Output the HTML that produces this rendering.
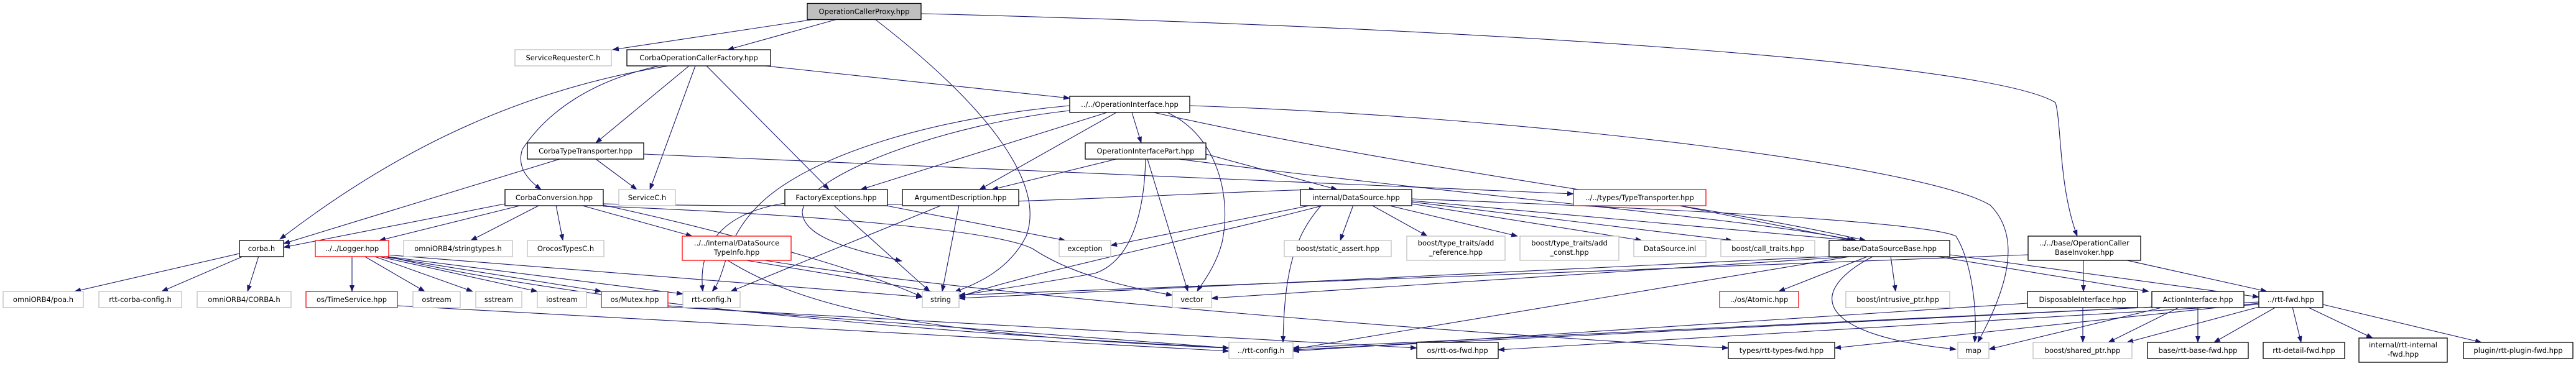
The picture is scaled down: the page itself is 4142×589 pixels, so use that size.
<!DOCTYPE html>
<html><head><meta charset="utf-8"><style>
html,body{margin:0;padding:0;background:#fff;}
svg{display:block;}
text{font-family:"DejaVu Sans","Liberation Sans",sans-serif;font-size:11.5px;fill:#000;text-anchor:middle;}
.e{fill:none;stroke:#191970;stroke-width:1.1;marker-end:url(#a);}
.b{fill:#fff;stroke:#000;stroke-width:1.3;}
.g{fill:#fff;stroke:#bfbfbf;stroke-width:1.3;}
.r{fill:#fff;stroke:#ff0000;stroke-width:1.3;}
</style></head><body>
<svg width="4142" height="589" viewBox="0 0 4142 589" xmlns="http://www.w3.org/2000/svg">
<defs><marker id="a" markerUnits="userSpaceOnUse" markerWidth="11" markerHeight="8" refX="10" refY="4" orient="auto"><path d="M0,0 L11,4 L0,8 z" fill="#191970"/></marker></defs>
<g>
<path class="e" d="M1310,31 L985,80"/>
<path class="e" d="M1346,31 L1170,80"/>
<path class="e" d="M1407,31 C1600,180 1680,300 1650,380 C1620,440 1560,460 1535,470"/>
<path class="e" d="M1481,22 C2400,45 3200,100 3305,165 C3315,200 3310,300 3340,380"/>
<path class="e" d="M1075,106 C800,150 600,270 450,385"/>
<path class="e" d="M1060,106 C950,130 880,180 840,240 C830,270 850,290 870,305"/>
<path class="e" d="M1108,106 L958,230"/>
<path class="e" d="M1118,106 L1045,305"/>
<path class="e" d="M1136,106 L1333,305"/>
<path class="e" d="M1230,106 L1720,158"/>
<path class="e" d="M958,256 L1024,305"/>
<path class="e" d="M900,256 L456,392"/>
<path class="e" d="M1035,248 L2530,312"/>
<path class="e" d="M812,328 L456,398"/>
<path class="e" d="M840,330 L610,387"/>
<path class="e" d="M868,330 L757,387"/>
<path class="e" d="M894,330 L905,387"/>
<path class="e" d="M933,330 L1113,380"/>
<path class="e" d="M970,332 C1300,345 1600,370 1660,400 C1720,440 1800,460 1885,475"/>
<path class="e" d="M970,328 C1500,340 1900,310 2115,305"/>
<path class="e" d="M970,330 C1200,380 1400,440 1483,478"/>
<path class="e" d="M1340,330 L1495,469"/>
<path class="e" d="M1420,330 L1713,387"/>
<path class="e" d="M1262,327 C1180,340 1120,380 1130,469"/>
<path class="e" d="M1542,330 L1515,469"/>
<path class="e" d="M1515,330 L1175,469"/>
<path class="e" d="M1780,181 L1384,305"/>
<path class="e" d="M1720,170 C1500,190 1300,250 1220,330 C1160,390 1170,440 1145,469"/>
<path class="e" d="M1720,178 C1520,200 1300,280 1290,340 C1290,380 1360,400 1450,420"/>
<path class="e" d="M1795,181 L1575,305"/>
<path class="e" d="M1820,181 L1835,230"/>
<path class="e" d="M1877,181 C1960,220 1980,320 1965,390 C1955,430 1930,460 1925,469"/>
<path class="e" d="M1855,181 C2300,280 2700,320 3000,387"/>
<path class="e" d="M1913,170 C2500,190 3100,270 3200,330 C3250,380 3230,460 3180,551"/>
<path class="e" d="M1795,256 L1595,305"/>
<path class="e" d="M1939,248 L2150,305"/>
<path class="e" d="M1842,256 C1840,340 1820,420 1760,440 C1650,460 1570,470 1542,476"/>
<path class="e" d="M1845,256 L1910,469"/>
<path class="e" d="M1895,256 C2400,320 2800,350 2985,387"/>
<path class="e" d="M2110,330 L1786,395"/>
<path class="e" d="M2130,330 C1900,390 1650,440 1542,478"/>
<path class="e" d="M2176,330 L2155,387"/>
<path class="e" d="M2205,330 L2295,380"/>
<path class="e" d="M2230,330 L2440,380"/>
<path class="e" d="M2270,328 L2640,387"/>
<path class="e" d="M2270,325 L2785,387"/>
<path class="e" d="M2270,323 L2980,387"/>
<path class="e" d="M2125,330 C2080,380 2065,440 2063,551"/>
<path class="e" d="M2270,320 C2800,340 3100,360 3145,380 C3170,420 3180,500 3175,551"/>
<path class="e" d="M2695,330 L2980,387"/>
<path class="e" d="M1200,419 L1535,475"/>
<path class="e" d="M1170,419 C1300,500 1500,540 1976,560"/>
<path class="e" d="M1230,419 C1600,480 2400,540 2779,560"/>
<path class="e" d="M566,412 L566,469"/>
<path class="e" d="M585,412 L683,469"/>
<path class="e" d="M600,412 L760,469"/>
<path class="e" d="M605,412 L864,469"/>
<path class="e" d="M610,412 L967,469"/>
<path class="e" d="M615,412 L1098,473"/>
<path class="e" d="M620,410 L1483,478"/>
<path class="e" d="M620,412 C900,480 1400,530 1976,560"/>
<path class="e" d="M639,492 L1976,565"/>
<path class="e" d="M1074,492 L1976,560"/>
<path class="e" d="M1074,494 L2278,560"/>
<path class="e" d="M385,408 L120,469"/>
<path class="e" d="M392,412 L260,469"/>
<path class="e" d="M416,412 L398,469"/>
<path class="e" d="M2960,412 L1542,480"/>
<path class="e" d="M2990,412 L1948,480"/>
<path class="e" d="M3005,412 L2860,469"/>
<path class="e" d="M3040,412 L3048,469"/>
<path class="e" d="M3013,412 C2900,470 2920,540 3145,562"/>
<path class="e" d="M3135,410 L3632,478"/>
<path class="e" d="M3110,412 L3455,469"/>
<path class="e" d="M2980,412 L2079,562"/>
<path class="e" d="M3350,419 L3350,469"/>
<path class="e" d="M3261,410 L1542,475"/>
<path class="e" d="M3420,419 L3645,469"/>
<path class="e" d="M3349,494 L3349,551"/>
<path class="e" d="M3260,488 L2079,565"/>
<path class="e" d="M3534,494 L3534,551"/>
<path class="e" d="M3505,494 L3390,551"/>
<path class="e" d="M3480,494 L3198,562"/>
<path class="e" d="M3465,494 L2079,563"/>
<path class="e" d="M3660,494 L3560,551"/>
<path class="e" d="M3686,494 L3700,551"/>
<path class="e" d="M3710,494 L3815,544"/>
<path class="e" d="M3735,490 L3990,551"/>
<path class="e" d="M3632,494 L3420,551"/>
<path class="e" d="M3632,490 L2409,563"/>
<path class="e" d="M3632,488 L2950,560"/>
<path class="e" d="M3632,486 L2079,560"/>
</g>
<g>
<rect x="1298" y="5.5" width="183" height="26" fill="#bfbfbf" stroke="#000" stroke-width="1.3"/><text x="1389.5" y="22.5">OperationCallerProxy.hpp</text>
<rect class="g" x="828" y="80" width="155" height="26"/><text x="905.5" y="97">ServiceRequesterC.h</text>
<rect class="b" x="1008" y="80" width="231" height="26"/><text x="1123.5" y="97">CorbaOperationCallerFactory.hpp</text>
<rect class="b" x="1720" y="155" width="193" height="26"/><text x="1816.5" y="172">../../OperationInterface.hpp</text>
<rect class="b" x="848" y="230" width="187" height="26"/><text x="941.5" y="247">CorbaTypeTransporter.hpp</text>
<rect class="b" x="1745" y="230" width="194" height="26"/><text x="1842" y="247">OperationInterfacePart.hpp</text>
<rect class="b" x="812" y="305" width="158" height="26"/><text x="891" y="322">CorbaConversion.hpp</text>
<rect class="g" x="995" y="305" width="91" height="26"/><text x="1040.5" y="322">ServiceC.h</text>
<rect class="b" x="1262" y="305" width="165" height="26"/><text x="1344.5" y="322">FactoryExceptions.hpp</text>
<rect class="b" x="1451" y="305" width="187" height="26"/><text x="1544.5" y="322">ArgumentDescription.hpp</text>
<rect class="b" x="2091" y="305" width="179" height="26"/><text x="2180.5" y="322">internal/DataSource.hpp</text>
<rect class="r" x="2530" y="305" width="213" height="26"/><text x="2636.5" y="322">../../types/TypeTransporter.hpp</text>
<rect class="b" x="385" y="387" width="71" height="26"/><text x="420.5" y="404">corba.h</text>
<rect class="r" x="507" y="387" width="118" height="26"/><text x="566" y="404">../../Logger.hpp</text>
<rect class="g" x="649" y="387" width="175" height="26"/><text x="736.5" y="404">omniORB4/stringtypes.h</text>
<rect class="g" x="848" y="387" width="123" height="26"/><text x="909.5" y="404">OrocosTypesC.h</text>
<rect class="r" x="1097" y="380" width="175" height="39"/><text x="1184.5" y="395">../../internal/DataSource</text><text x="1184.5" y="410">TypeInfo.hpp</text>
<rect class="g" x="1703" y="387" width="83" height="26"/><text x="1744.5" y="404">exception</text>
<rect class="g" x="2065" y="387" width="172" height="26"/><text x="2151" y="404">boost/static_assert.hpp</text>
<rect class="g" x="2262" y="380" width="158" height="39"/><text x="2341" y="395">boost/type_traits/add</text><text x="2341" y="410">_reference.hpp</text>
<rect class="g" x="2444" y="380" width="159" height="39"/><text x="2523.5" y="395">boost/type_traits/add</text><text x="2523.5" y="410">_const.hpp</text>
<rect class="g" x="2627" y="387" width="116" height="26"/><text x="2685" y="404">DataSource.inl</text>
<rect class="g" x="2767" y="387" width="151" height="26"/><text x="2842.5" y="404">boost/call_traits.hpp</text>
<rect class="b" x="2941" y="387" width="194" height="26"/><text x="3038" y="404">base/DataSourceBase.hpp</text>
<rect class="b" x="3261" y="380" width="181" height="39"/><text x="3351.5" y="395">../../base/OperationCaller</text><text x="3351.5" y="410">BaseInvoker.hpp</text>
<rect class="g" x="5" y="469" width="129" height="26"/><text x="69.5" y="486">omniORB4/poa.h</text>
<rect class="g" x="159" y="469" width="133" height="26"/><text x="225.5" y="486">rtt-corba-config.h</text>
<rect class="g" x="317" y="469" width="151" height="26"/><text x="392.5" y="486">omniORB4/CORBA.h</text>
<rect class="r" x="492" y="469" width="147" height="26"/><text x="565.5" y="486">os/TimeService.hpp</text>
<rect class="g" x="664" y="469" width="76" height="26"/><text x="702" y="486">ostream</text>
<rect class="g" x="765" y="469" width="74" height="26"/><text x="802" y="486">sstream</text>
<rect class="g" x="864" y="469" width="79" height="26"/><text x="903.5" y="486">iostream</text>
<rect class="r" x="967" y="469" width="107" height="26"/><text x="1020.5" y="486">os/Mutex.hpp</text>
<rect class="g" x="1098" y="469" width="92" height="26"/><text x="1144" y="486">rtt-config.h</text>
<rect class="g" x="1483" y="469" width="59" height="26"/><text x="1512.5" y="486">string</text>
<rect class="g" x="1885" y="469" width="63" height="26"/><text x="1916.5" y="486">vector</text>
<rect class="r" x="2765" y="469" width="127" height="26"/><text x="2828.5" y="486">../os/Atomic.hpp</text>
<rect class="g" x="2968" y="469" width="167" height="26"/><text x="3051.5" y="486">boost/intrusive_ptr.hpp</text>
<rect class="b" x="3260" y="469" width="177" height="26"/><text x="3348.5" y="486">DisposableInterface.hpp</text>
<rect class="b" x="3460" y="469" width="148" height="26"/><text x="3534" y="486">ActionInterface.hpp</text>
<rect class="b" x="3632" y="469" width="103" height="26"/><text x="3683.5" y="486">../rtt-fwd.hpp</text>
<rect class="g" x="1976" y="551" width="103" height="26"/><text x="2027.5" y="568">../rtt-config.h</text>
<rect class="b" x="2278" y="551" width="131" height="26"/><text x="2343.5" y="568">os/rtt-os-fwd.hpp</text>
<rect class="b" x="2779" y="551" width="171" height="26"/><text x="2864.5" y="568">types/rtt-types-fwd.hpp</text>
<rect class="g" x="3148" y="551" width="50" height="26"/><text x="3173" y="568">map</text>
<rect class="g" x="3269" y="551" width="159" height="26"/><text x="3348.5" y="568">boost/shared_ptr.hpp</text>
<rect class="b" x="3453" y="551" width="162" height="26"/><text x="3534" y="568">base/rtt-base-fwd.hpp</text>
<rect class="b" x="3639" y="551" width="131" height="26"/><text x="3704.5" y="568">rtt-detail-fwd.hpp</text>
<rect class="b" x="3793" y="544" width="142" height="39"/><text x="3864" y="559">internal/rtt-internal</text><text x="3864" y="574">-fwd.hpp</text>
<rect class="b" x="3961" y="551" width="176" height="26"/><text x="4049" y="568">plugin/rtt-plugin-fwd.hpp</text>
</g>
</svg>
</body></html>
